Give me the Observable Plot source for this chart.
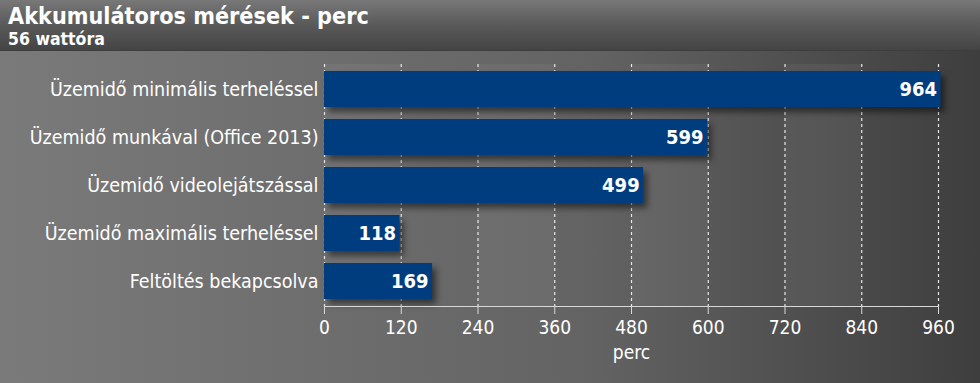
<!DOCTYPE html>
<html>
<head>
<meta charset="utf-8">
<script src="https://cdn.jsdelivr.net/npm/d3@7"></script>
<script src="https://cdn.jsdelivr.net/npm/@observablehq/plot@0.6"></script>
<style>
  html, body { margin: 0; padding: 0; }
  body { width: 980px; height: 383px; overflow: hidden; font-family: "DejaVu Sans Condensed", "DejaVu Sans", sans-serif; }
  #header { position: relative; height: 51px; background: linear-gradient(to bottom, #787878 0%, #5c5c5c 45%, #444 100%); color: #fff; box-sizing: border-box; border-bottom: 1px solid #3e3e3e; }
  #title { position: absolute; left: 8px; top: 4.5px; font-weight: bold; font-size: 23.2px; line-height: 22px; white-space: nowrap; }
  #subtitle { position: absolute; left: 8px; top: 30px; font-weight: bold; font-size: 17.5px; line-height: 18px; white-space: nowrap; }
  #chart { height: 332px; background: linear-gradient(to right, #7a7a7a 0%, #636363 60%, #3e3e3e 100%); }
  #chart svg { display: block; }
  g[aria-label="bar"] rect { filter: drop-shadow(4px 5px 3px rgba(0,0,0,0.5)); }
</style>
</head>
<body>
<div id="header"><div id="title">Akkumulátoros mérések - perc</div><div id="subtitle">56 wattóra</div></div>
<div id="chart"></div>
<script>
const categories = [
  "Üzemidő minimális terheléssel",
  "Üzemidő munkával (Office 2013)",
  "Üzemidő videolejátszással",
  "Üzemidő maximális terheléssel",
  "Feltöltés bekapcsolva"
];
const values = [964, 599, 499, 118, 169];
const xTicks = [0, 120, 240, 360, 480, 600, 720, 840, 960];
const stripeStarts = [0, 240, 480, 720];

const data = categories.map((c, i) => ({c, v: values[i]}));

const chart = Plot.plot({
  width: 980,
  height: 332,
  marginLeft: 324,
  marginRight: 42,
  marginTop: 13,
  marginBottom: 77,
  style: {background: "transparent", color: "#fff", fontFamily: "'DejaVu Sans Condensed', 'DejaVu Sans', sans-serif"},
  x: {domain: [0, 960], ticks: xTicks, label: null},
  y: {domain: categories, paddingInner: 0.24, paddingOuter: 0.12, label: null},
  marks: [
    Plot.rect(stripeStarts, {x1: d => d, x2: d => d + 120, fill: "#fff", fillOpacity: 0.05}),
    Plot.gridX(xTicks, {stroke: "#e8e8e8", strokeOpacity: 1, strokeWidth: 1.2, strokeDasharray: "3,3"}),
    Plot.barX(data, {x: "v", y: "c", fill: "#003d7e"}),
    Plot.text(data, {x: "v", y: "c", text: d => String(d.v), textAnchor: "end", dx: -4, fill: "#fff", fontWeight: "bold", fontSize: 20}),
    Plot.frame({anchor: "bottom", stroke: "#d8d8d8", strokeWidth: 1.2}),
    Plot.axisX(xTicks, {tickSize: 8, stroke: "#d8d8d8", tickPadding: 6, fontSize: 19, fill: "#fff", label: "perc", labelAnchor: "center", labelOffset: 52, labelArrow: "none"}),
    Plot.axisY({tickSize: 0, tickPadding: 6, fontSize: 19.5, fill: "#fff", label: null})
  ]
});
document.getElementById("chart").appendChild(chart);
</script>
</body>
</html>
